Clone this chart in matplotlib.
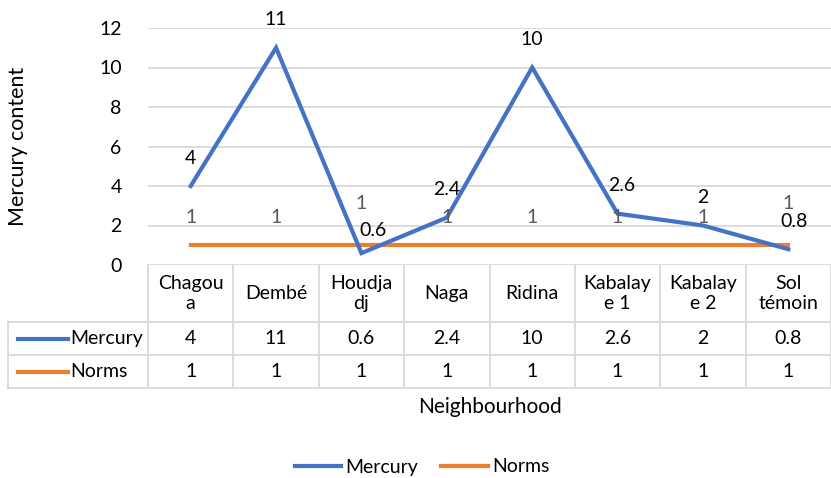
import matplotlib.pyplot as plt
import matplotlib.transforms as mtransforms
from matplotlib.lines import Line2D

plt.rcParams['font.family'] = ['Lato', 'DejaVu Sans']

# data
categories = ["Chagou\na", "Dembé", "Houdja\ndj", "Naga", "Ridina",
              "Kabalay\ne 1", "Kabalay\ne 2", "Sol\ntémoin"]
mercury = [4, 11, 0.6, 2.4, 10, 2.6, 2, 0.8]
norms = [1, 1, 1, 1, 1, 1, 1, 1]

blue = '#4472C4'
orange = '#ED7D31'
grid_c = '#D9D9D9'
fs = 14
lw = 3.0

W, H = 831, 478
fig = plt.figure(figsize=(W / 100, H / 100), dpi=100)
# plot area in pixels: left 148, right 831, top 28, bottom 265
ax = fig.add_axes([148 / W, (H - 265) / H, 683 / W, 237 / H])
ax.set_xlim(-0.5, len(categories) - 0.5)
ax.set_ylim(0, 12)
ax.set_yticks(range(0, 13, 2))
ax.set_xticks([])
ax.tick_params(axis='y', length=0, pad=19, labelsize=fs)
for s in ax.spines.values():
    s.set_visible(False)
ax.yaxis.grid(True, color=grid_c, lw=1.3)
ax.set_axisbelow(True)

x = list(range(len(categories)))
ax.plot(x, mercury, color=blue, lw=lw, solid_joinstyle='miter', zorder=3)
ax.plot(x, norms, color=orange, lw=lw, zorder=2)

# data labels (offsets in points)
merc_off = {2: (8, 16), 5: (3, 20), 7: (4, 20)}
norm_off = {2: (0, 30), 7: (0, 30)}
for i, v in enumerate(mercury):
    dx, dy = merc_off.get(i, (0, 20))
    ax.annotate('{:g}'.format(v), (i, v), xytext=(dx, dy), textcoords='offset points',
                ha='center', va='center', fontsize=fs, color='black', zorder=5)
for i, v in enumerate(norms):
    dx, dy = norm_off.get(i, (0, 20))
    ax.annotate('{:g}'.format(v), (i, v), xytext=(dx, dy), textcoords='offset points',
                ha='center', va='center', fontsize=fs, color='#595959', zorder=5)

fig.text(18 / W, 1 - 146 / H, 'Mercury content', rotation=90, ha='center', va='center',
         fontsize=15.5)

# data table under the plot
trans = mtransforms.blended_transform_factory(ax.transData, ax.transAxes)


def ya(ypx):
    return (265 - ypx) / 237


col_w = 683 / len(categories)
x_left = -0.5 - 140 / col_w
x_right = len(categories) - 0.5
rows = [265, 322, 355, 388]

# horizontal lines
for r in rows[1:]:
    ax.add_line(Line2D([x_left, x_right], [ya(r)] * 2, transform=trans, color=grid_c,
                       lw=1.3, clip_on=False))
# vertical lines
for k in range(len(categories) + 1):
    xv = k - 0.5
    ax.add_line(Line2D([xv, xv], [ya(rows[0]), ya(rows[-1])], transform=trans,
                       color=grid_c, lw=1.3, clip_on=False))
ax.add_line(Line2D([x_left, x_left], [ya(rows[1]), ya(rows[-1])], transform=trans,
                   color=grid_c, lw=1.3, clip_on=False))

for i, cat in enumerate(categories):
    ax.text(i, ya(293.5), cat, transform=trans, ha='center', va='center',
            fontsize=fs, linespacing=1.2)
    ax.text(i, ya(338.5), '{:g}'.format(mercury[i]), transform=trans,
            ha='center', va='center', fontsize=fs)
    ax.text(i, ya(371.5), '{:g}'.format(norms[i]), transform=trans,
            ha='center', va='center', fontsize=fs)

# legend keys in the row headers
key_x0 = x_left + 10 / col_w
key_x1 = x_left + 60 / col_w
for name, col, yc in [('Mercury', blue, 338.5), ('Norms', orange, 371.5)]:
    ax.add_line(Line2D([key_x0, key_x1], [ya(yc)] * 2, transform=trans, color=col,
                       lw=lw, clip_on=False))
    ax.text(key_x1 + 2 / col_w, ya(yc), name, transform=trans, ha='left',
            va='center', fontsize=fs)

ax.text(3.5, ya(407), 'Neighbourhood', transform=trans, ha='center', va='center',
        fontsize=fs + 1)

# bottom legend
handles = [Line2D([], [], color=blue, lw=lw), Line2D([], [], color=orange, lw=lw)]
fig.legend(handles, ['Mercury', 'Norms'], loc='center', bbox_to_anchor=(422 / W, 1 - 467 / H),
           ncol=2, frameon=False, fontsize=fs, handlelength=2.4, handletextpad=0.2,
           columnspacing=1.2)

fig.savefig('out.png', dpi=100)
